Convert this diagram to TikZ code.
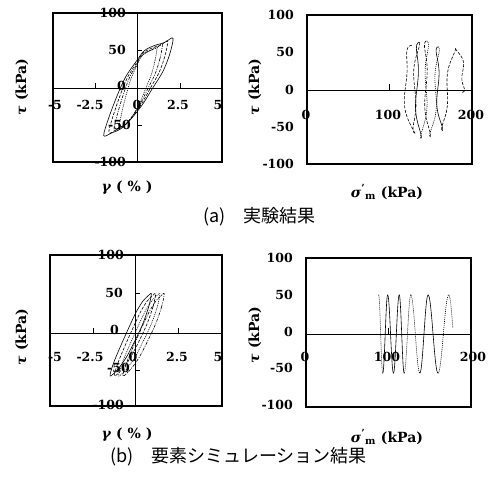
\documentclass[tikz,border=0pt]{standalone}
\usepackage{fontspec}
\setmainfont{DejaVu Serif}
\newfontfamily\jpfont{Noto Sans CJK JP}
\begin{document}
\begin{tikzpicture}[x=1pt,y=-1pt]
    \tikzstyle{frame}=[draw,line width=1.2pt]
    \tikzstyle{axis}=[draw,line width=0.9pt]
    \tikzstyle{num}=[font=\bfseries\fontsize{12.5}{13}\selectfont,inner sep=0pt]
    \tikzstyle{ylab}=[num,anchor=east]
    \tikzstyle{title}=[font=\bfseries\fontsize{14}{14}\selectfont,inner sep=0pt]
    \tikzstyle{caption}=[font=\jpfont\fontsize{18}{18}\selectfont,inner sep=0pt,anchor=west]
    \tikzstyle{curve}=[line width=0.6pt,line join=round]
    \tikzstyle{dots}=[dash pattern=on 1pt off 1pt]
    \tikzstyle{dashes}=[dash pattern=on 3pt off 1.5pt]
    \tikzstyle{dashdot}=[dash pattern=on 3pt off 1.2pt on 1pt off 1.2pt]
    \useasboundingbox (0,0) rectangle (492,477);

      % (a) tau - gamma
      \draw[frame] (53,13) rectangle (222,162);
      \draw[axis] (53,88) -- (222,88) (137.5,13) -- (137.5,162);
      \foreach \t in {95,180} \draw[axis] (\t,88) -- (\t,83);
      \foreach \t in {50,125} \draw[axis] (137.5,\t) -- (142,\t);
      \begin{scope}[shift={(137.5,88)},x=16.9pt,y=0.745pt]
        \foreach \sx/\sy/\st in {1/1/solid,0.85/0.94/dashes,0.7/0.88/dashdot,0.55/0.84/dots}
          \draw[curve,\st,xscale=\sx,yscale=\sy] plot[smooth cycle] coordinates {(2.1,67) (1.9,45) (1.5,22) (0.9,0) (0.3,-22) (-0.4,-42) (-1.0,-55) (-1.5,-60) (-2.0,-64) (-1.7,-40) (-1.2,-10) (-0.7,15) (-0.1,35) (0.4,50) (1.0,57) (1.6,61)};
      \end{scope}
      \foreach \v/\px/\y [count=\i] in {100/126/13,50/126/50,0/126/86,-50/131/125,-100/126/162}
        \node[ylab] (tly\i) at (\px,\y) {\v};
      \foreach \v/\px [count=\i] in {-5/55,-2.5/90,0/137,2.5/178,5/218}
        \node[num] (tlx\i) at (\px,105) {\v};
      \node[title,rotate=90] (tlt) at (22,87) {\textit{τ} (kPa)};
      \node[title] (tlg) at (127,188) {\textit{γ} ( \% )};

      % (a) tau - sigma'm
      \draw[frame] (307,15) rectangle (472,164);
      \draw[axis] (307,90) -- (472,90) (389.5,90) -- (389.5,84);
      \begin{scope}[shift={(307,90)},x=0.825pt,y=0.745pt]
        \foreach \sa/\ta/\sb/\tb/\w/\st in {188/-3/180/56/5/dashes,180/56/164/-55/-2/dashes,164/-55/159/58/-3/solid,159/58/149/-63/2/dots,149/-63/145/66/-3/dashes,145/66/138/-65/3/dots,138/-65/136/64/-4/solid,136/64/131/-58/-3/dashes,131/-58/127/60/-10/dashes}
          \draw[curve,\st] plot[domain=0:1,samples=20,smooth] ({\sa+((\sb)-(\sa))*\x+(\w)*sin(180*\x)+2*sin(720*\x)},{(\ta)+((\tb)-(\ta))*(1-cos(180*\x))/2});
      \end{scope}
      \foreach \v/\y [count=\i] in {100/15,50/52,0/90,-50/127,-100/164}
        \node[ylab] (try\i) at (294,\y) {\v};
      \node[num] (trx1) at (306,115) {0};
      \node[num] (trx2) at (388,115) {100};
      \node[num] (trx3) at (471,115) {200};
      \node[title,rotate=90] (trt) at (255,87) {\textit{τ} (kPa)};
      \node[title] (trs) at (387,192) {\textit{σ}\textsuperscript{'}\textsubscript{m} (kPa)};

      % (b) tau - gamma
      \draw[frame] (50,255) rectangle (222,406);
      \draw[axis] (50,333) -- (222,333) (135,255) -- (135,406);
      \foreach \t in {93,178} \draw[axis] (\t,333) -- (\t,328);
      \foreach \t in {293,370} \draw[axis] (135,\t) -- (140,\t);
      \begin{scope}[shift={(135,333)},x=17.2pt,y=0.755pt]
        \foreach \dx/\st in {0/solid,0.25/dashes,0.5/dots,0.75/dashdot}
          \draw[curve,\st,shift={(\dx,0)}] plot[smooth cycle] coordinates {(0.95,52) (0.8,35) (0.45,12) (0.0,-10) (-0.5,-32) (-1.0,-48) (-1.45,-57) (-1.25,-40) (-0.85,-18) (-0.4,5) (0.05,27) (0.45,42) (0.75,49)};
      \end{scope}
      \foreach \v/\px/\y [count=\i] in {100/124/255,50/123/293,0/119/330,-50/130/368,-100/124/405}
        \node[ylab] (bly\i) at (\px,\y) {\v};
      \foreach \v/\px [count=\i] in {-5/55,-2.5/90,0/133,2.5/177,5/218}
        \node[num] (blx\i) at (\px,357) {\v};
      \node[title,rotate=90] (blt) at (22,337) {\textit{τ} (kPa)};
      \node[title] (blg) at (127,435) {\textit{γ} ( \% )};

      % (b) tau - sigma'm
      \draw[frame] (306,258) rectangle (471,407);
      \draw[axis] (306,334) -- (471,334) (388.5,334) -- (388.5,328);
      \begin{scope}[shift={(306,334)},x=0.825pt,y=0.755pt]
        \foreach \sa/\sb/\sg/\st in {88/93/1/dots,93/99/-1/solid,99/106/1/solid,106/113/-1/solid,113/119/1/solid,119/127/-1/dots,127/138/1/dots,138/148/-1/solid,148/160/1/solid,160/173/-1/dots}
          \draw[curve,\st] plot[domain=0:1,samples=12,smooth] ({\sa+((\sb)-(\sa))*\x},{(\sg)*52*cos(180*\x)});
        \draw[curve,dots] plot[domain=0:0.45,samples=8,smooth] ({173+11*\x},{52*cos(180*\x)});
      \end{scope}
      \foreach \v/\y [count=\i] in {100/258,50/295,0/332,-50/368,-100/405}
        \node[ylab] (bry\i) at (293,\y) {\v};
      \node[num] (brx1) at (305,357) {0};
      \node[num] (brx2) at (387,357) {100};
      \node[num] (brx3) at (473,357) {200};
      \node[title,rotate=90] (brt) at (255,335) {\textit{τ} (kPa)};
      \node[title] (brs) at (387,437) {\textit{σ}\textsuperscript{'}\textsubscript{m} (kPa)};

      \node[caption] (capa) at (203,217) {(a)\quad 実験結果};
      \node[caption] (capb) at (110,457) {(b)\quad 要素シミュレーション結果};
\end{tikzpicture}
\end{document}
